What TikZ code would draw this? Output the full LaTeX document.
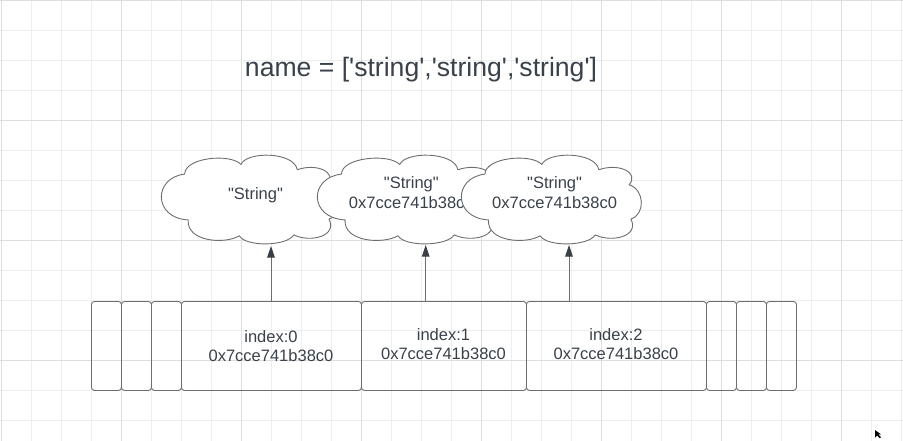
\documentclass[tikz,border=0pt]{standalone}
\usepackage{fontspec}
\setmainfont{Liberation Sans}[Ligatures=TeXOff]
\usetikzlibrary{arrows.meta}
\definecolor{txt}{HTML}{3A414A}
\definecolor{ln}{HTML}{6E6E6E}
\definecolor{tip}{HTML}{3A3F45}
\definecolor{gmin}{HTML}{EEEEEE}
\definecolor{gmaj}{HTML}{DEDEDE}
\newcommand\cloudnode[5]{%
  \node[cloudbox,minimum width=#4pt,minimum height=#5pt] (#1) at (#2,#3) {};
  \begin{scope}[shift={(#1.north west)},xscale=#4,yscale=#5]
    \filldraw[cloudline] (0.13,0.22)
      .. controls (0.13,0.03) and (0.39,-0.02) .. (0.45,0.11)
      .. controls (0.48,-0.04) and (0.75,-0.04) .. (0.77,0.17)
      .. controls (0.88,0.09) and (1.00,0.20) .. (0.94,0.34)
      .. controls (1.03,0.40) and (1.03,0.68) .. (0.95,0.73)
      .. controls (1.00,0.93) and (0.84,1.00) .. (0.75,0.91)
      .. controls (0.71,1.04) and (0.48,1.05) .. (0.44,0.92)
      .. controls (0.36,1.02) and (0.14,0.99) .. (0.15,0.74)
      .. controls (-0.05,0.72) and (-0.05,0.26) .. cycle;
  \end{scope}}
\begin{document}
\begin{tikzpicture}[x=1pt,y=-1pt,
  cell/.style={draw=ln,line width=0.9pt,rounded corners=3pt,minimum height=89pt,inner sep=0,anchor=north west},
  lbl/.style={text=txt,font=\fontsize{16.5}{19.5}\selectfont,anchor=base,inner sep=0},
  cloudbox/.style={inner sep=0,draw=none},
  cloudline/.style={draw=ln,fill=white,line width=0.9pt,line join=round},
  arr/.style={draw=ln,line width=0.9pt,-{Triangle[length=11.5pt,width=7.5pt,color=tip]}}
]
\useasboundingbox (0,0) rectangle (903,441);
\fill[white] (0,0) rectangle (903,441);
% grid
\foreach \i in {0,...,30} {\draw[gmin,line width=0.8pt] (1.7+30*\i,0) -- (1.7+30*\i,441);}
\foreach \i in {0,...,14} {\draw[gmin,line width=0.8pt] (0,0.7+30*\i) -- (903,0.7+30*\i);}
\foreach \i in {0,...,7} {\draw[gmaj,line width=0.8pt] (1.7+120*\i,0) -- (1.7+120*\i,441);}
\foreach \i in {0,...,3} {\draw[gmaj,line width=0.8pt] (0,0.7+120*\i) -- (903,0.7+120*\i);}
% title
\node[text=txt,font=\fontsize{26.6}{30}\selectfont,anchor=base,inner sep=0] (title) at (421,77) {name = ['string','string','string']};
% array cells
\node[cell,minimum width=30pt] (s1) at (91,301) {};
\node[cell,minimum width=30pt] (s2) at (121,301) {};
\node[cell,minimum width=30pt] (s3) at (151,301) {};
\node[cell,minimum width=180pt] (b0) at (181,301) {};
\node[cell,minimum width=165pt] (b1) at (361,301) {};
\node[cell,minimum width=180pt] (b2) at (526,301) {};
\node[cell,minimum width=30pt] (s4) at (706,301) {};
\node[cell,minimum width=30pt] (s5) at (736,301) {};
\node[cell,minimum width=30pt] (s6) at (766,301) {};
\node[lbl] (b0a) at (271,342) {index:0};
\node[lbl] (b0b) at (271,361.5) {0x7cce741b38c0};
\node[lbl] (b1a) at (443.5,340) {index:1};
\node[lbl] (b1b) at (443.5,359.5) {0x7cce741b38c0};
\node[lbl] (b2a) at (616,340) {index:2};
\node[lbl] (b2b) at (616,359.5) {0x7cce741b38c0};
% clouds
\cloudnode{c1}{250}{199}{176}{88}
\node[lbl] (c1a) at (255.5,200) {"String"};
\cloudnode{c2}{409}{199}{182}{88}
\node[lbl] (c2a) at (411.3,189) {"String"};
\node[lbl] (c2b) at (411.3,209) {0x7cce741b38c0};
\cloudnode{c3}{551}{199}{178}{88}
\node[lbl] (c3a) at (554.6,189) {"String"};
\node[lbl] (c3b) at (554.6,209) {0x7cce741b38c0};
% arrows
\coordinate (p0) at (271,301);
\coordinate (q0) at (271,246);
\coordinate (p1) at (425.7,301);
\coordinate (q1) at (425.7,245);
\coordinate (p2) at (569,301);
\coordinate (q2) at (569,245);
\draw[arr] (p0) -- (q0);
\draw[arr] (p1) -- (q1);
\draw[arr] (p2) -- (q2);
% cursor
\fill[black] (875,430) -- (875,437.5) -- (877,435.5) -- (879.8,438.3) -- (881,437.1) -- (878.2,434.3) -- (881,434.3) -- cycle;
\end{tikzpicture}
\end{document}
